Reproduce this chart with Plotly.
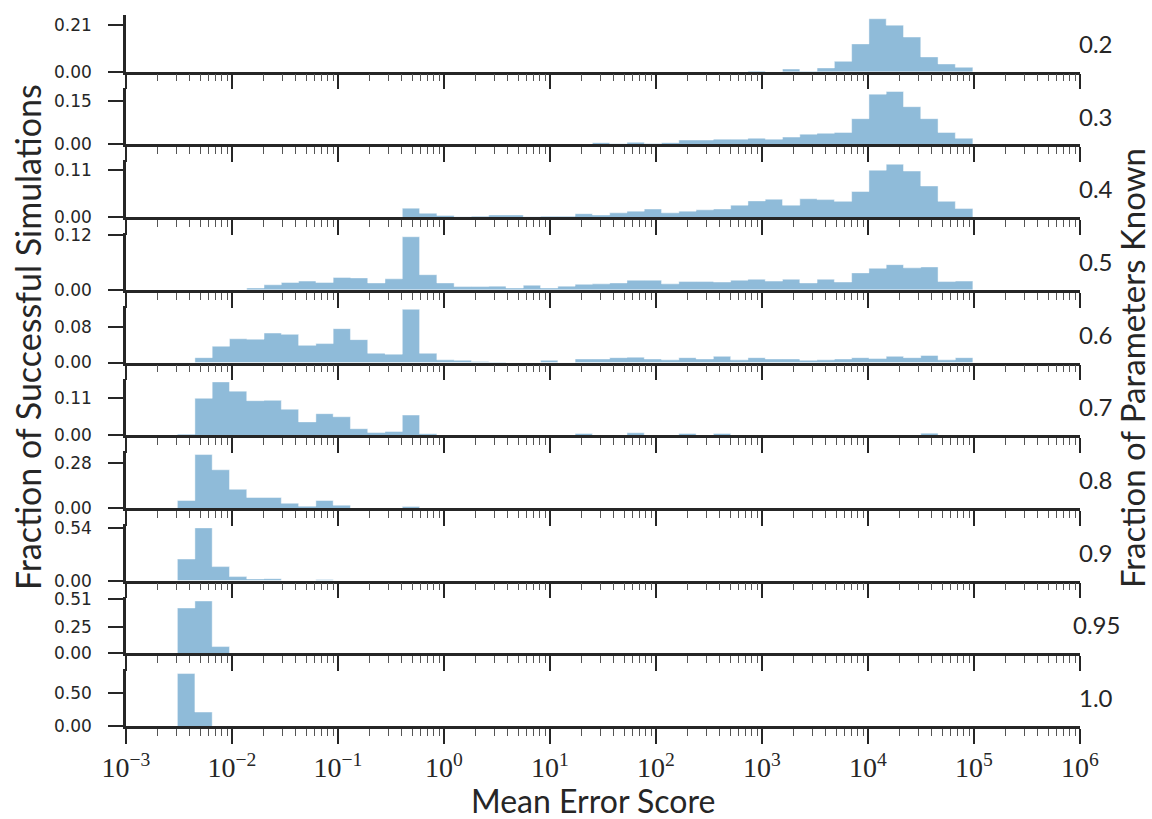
import numpy as np
import plotly.graph_objects as go
from plotly.subplots import make_subplots

# ---------------- data ----------------
fractions_known = ["0.2", "0.3", "0.4", "0.5", "0.6", "0.7", "0.8", "0.9", "0.95", "1.0"]

# logarithmic histogram binning (46 bins)
log_lo, log_hi, n_bins = -2.513, 4.987, 46
bin_edges = np.logspace(log_lo, log_hi, n_bins + 1)

p02 = [0]*33 + [0.003, 0.0, 0.012, 0.002, 0.017, 0.047, 0.126, 0.240, 0.211, 0.157, 0.067, 0.035, 0.020]
p03 = [0]*24 + [0.006, 0.002, 0.007, 0.003, 0.006, 0.015, 0.015, 0.018, 0.018, 0.021, 0.018,
                0.025, 0.035, 0.038, 0.041, 0.088, 0.172, 0.181, 0.129, 0.088, 0.041, 0.021]
p04 = [0]*13 + [0.021, 0.009, 0.004, 0.001, 0.002, 0.005, 0.005, 0.001, 0.002, 0.002, 0.008,
                0.005, 0.010, 0.014, 0.019, 0.010, 0.014, 0.017, 0.019, 0.028, 0.038, 0.042,
                0.028, 0.043, 0.041, 0.037, 0.060, 0.110, 0.124, 0.108, 0.073, 0.037, 0.020]
p05 = [0, 0, 0, 0, 0.004, 0.011, 0.016, 0.019, 0.016, 0.027, 0.026, 0.015, 0.024, 0.116, 0.033,
       0.015, 0.007, 0.007, 0.008, 0.004, 0.010, 0.004, 0.008, 0.012, 0.013, 0.015, 0.021, 0.021,
       0.013, 0.018, 0.018, 0.017, 0.021, 0.023, 0.019, 0.023, 0.015, 0.023, 0.017, 0.037, 0.047,
       0.055, 0.048, 0.050, 0.018, 0.019]
p06 = [0, 0.011, 0.037, 0.054, 0.053, 0.067, 0.064, 0.039, 0.043, 0.077, 0.052, 0.021, 0.019,
       0.121, 0.021, 0.006, 0.005, 0.002, 0.001, 0, 0, 0.005, 0, 0.008, 0.008, 0.011, 0.012,
       0.008, 0.006, 0.011, 0.008, 0.014, 0.006, 0.011, 0.008, 0.008, 0.005, 0.006, 0.008,
       0.011, 0.009, 0.014, 0.011, 0.016, 0.006, 0.011]
p07 = [0.003, 0.108, 0.156, 0.129, 0.101, 0.102, 0.076, 0.039, 0.063, 0.054, 0.019, 0.008, 0.011,
       0.059, 0.004, 0, 0, 0, 0, 0, 0, 0, 0, 0.005, 0, 0, 0.007, 0, 0, 0.005, 0, 0.005,
       0, 0, 0, 0, 0, 0, 0, 0, 0, 0, 0, 0.006, 0, 0]
p08 = [0.046, 0.333, 0.238, 0.116, 0.065, 0.065, 0.029, 0.011, 0.046, 0.017, 0, 0, 0, 0.008] + [0]*32
p09 = [0.222, 0.543, 0.144, 0.041, 0.017, 0.020, 0, 0, 0.012] + [0]*37
p095 = [0.425, 0.491, 0.063] + [0]*43
p10 = [0.79, 0.21] + [0]*44

series = [p02, p03, p04, p05, p06, p07, p08, p09, p095, p10]

y_tick_vals = [[0, 0.21], [0, 0.15], [0, 0.11], [0, 0.12], [0, 0.08],
               [0, 0.11], [0, 0.28], [0, 0.54], [0, 0.25, 0.51], [0, 0.50]]
y_upper = [0.257, 0.194, 0.133, 0.124, 0.129, 0.166, 0.354, 0.584, 0.532, 0.854]

x_tick_vals = [1e-3, 1e-2, 1e-1, 1e0, 1e1, 1e2, 1e3, 1e4, 1e5, 1e6]
x_tick_text = ["10<sup>−3</sup>", "10<sup>−2</sup>", "10<sup>−1</sup>", "10<sup>0</sup>",
               "10<sup>1</sup>", "10<sup>2</sup>", "10<sup>3</sup>", "10<sup>4</sup>",
               "10<sup>5</sup>", "10<sup>6</sup>"]

# ---------------- figure ----------------
W, H = 1152, 819
ML, MR, MT, MB = 126, 72, 15, 93
PW, PH = W - ML - MR, H - MT - MB

def px_x(x):
    return (x - ML) / PW

def px_y(y):
    return (H - MB - y) / PH

n = len(series)
fig = make_subplots(rows=n, cols=1, vertical_spacing=16 / PH)

INK = "#262626"
FILL = "rgba(31,119,180,0.5)"
EDGE = "rgba(255,255,255,0.45)"
SANS = "Lato"

for i, vals in enumerate(series):
    yy = list(vals) + [vals[-1]]
    fig.add_trace(go.Scatter(
        x=bin_edges, y=yy, mode="lines", line=dict(shape="hv", color=EDGE, width=1),
        fill="tozeroy", fillcolor=FILL, showlegend=False, hoverinfo="skip"),
        row=i + 1, col=1)
    fig.update_yaxes(
        row=i + 1, col=1, range=[0, y_upper[i]], tickvals=y_tick_vals[i],
        ticktext=[f"{v:.2f}" for v in y_tick_vals[i]],
        showline=True, linecolor=INK, linewidth=2.5, ticks="outside", ticklen=15,
        tickwidth=2, tickcolor=INK, showgrid=False, zeroline=False, automargin=False,
        tickfont=dict(family="DejaVu Sans", size=17, color=INK), ticklabelstandoff=13)
    fig.update_xaxes(
        row=i + 1, col=1, type="log", range=[-3, 6], tickvals=x_tick_vals,
        ticktext=x_tick_text, showticklabels=(i == n - 1), automargin=False,
        showline=True, linecolor=INK, linewidth=2.5, ticks="outside", ticklen=15,
        tickwidth=2, tickcolor=INK, showgrid=False, zeroline=False,
        tickfont=dict(family="Liberation Serif", size=28, color=INK),
        minor=dict(ticks="outside", ticklen=7, tickwidth=1.2, tickcolor="#555555",
                   dtick="D1", showgrid=False))
    yname = "y" if i == 0 else f"y{i + 1}"
    fig.add_annotation(
        text=fractions_known[i], xref="paper", yref=f"{yname} domain",
        x=px_x(1096), y=0.5, xanchor="center", yanchor="middle", showarrow=False,
        font=dict(family=SANS, size=24, color=INK))

fig.add_annotation(text="Mean Error Score", xref="paper", yref="paper",
                   x=px_x(593), y=px_y(800), xanchor="center", yanchor="middle",
                   showarrow=False, font=dict(family=SANS, size=32, color=INK))
fig.add_annotation(text="Fraction of Successful Simulations", xref="paper", yref="paper",
                   x=px_x(27), y=px_y(337), xanchor="center", yanchor="middle",
                   textangle=-90, showarrow=False, font=dict(family=SANS, size=34, color=INK))
fig.add_annotation(text="Fraction of Parameters Known", xref="paper", yref="paper",
                   x=px_x(1132), y=px_y(368), xanchor="center", yanchor="middle",
                   textangle=-90, showarrow=False, font=dict(family=SANS, size=33, color=INK))

fig.update_layout(
    width=W, height=H, margin=dict(l=ML, r=MR, t=MT, b=MB, autoexpand=False),
    paper_bgcolor="white", plot_bgcolor="white", showlegend=False)

fig.write_html("out.html", config={"displayModeBar": False},
               post_script="document.body.style.margin='0px';")
